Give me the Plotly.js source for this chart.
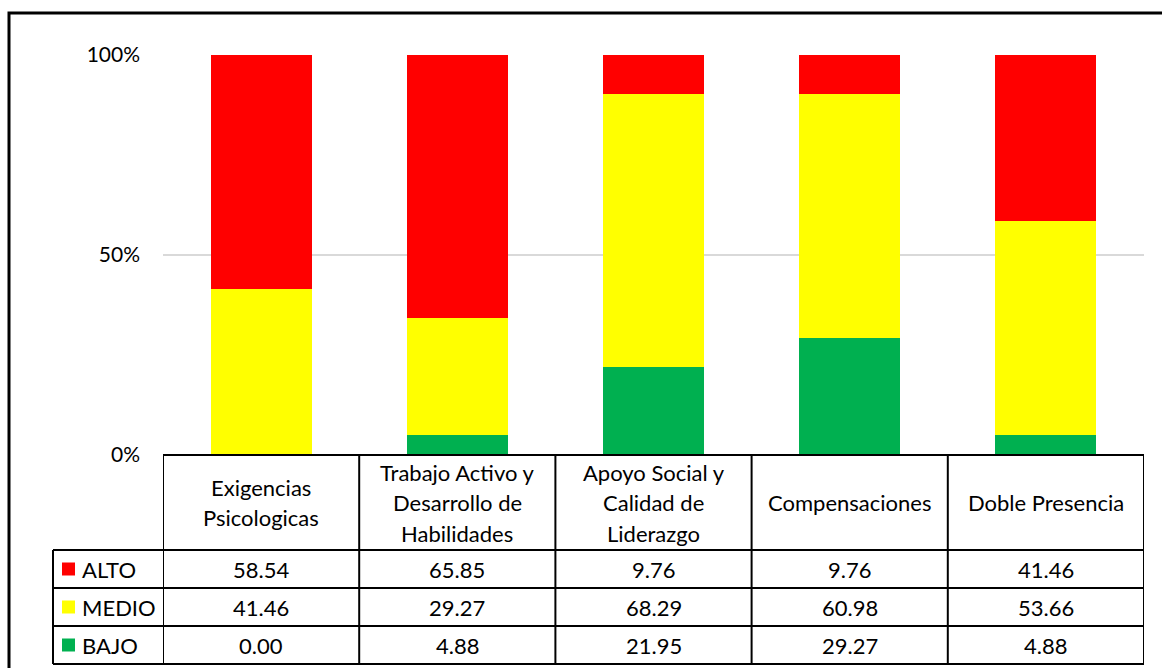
<!DOCTYPE html>
<html>
<head>
<meta charset="utf-8">
<script src="https://cdn.plot.ly/plotly-3.0.1.min.js"></script>
<style>html,body{margin:0;padding:0;background:#fff;}#chart{width:1162px;height:668px;}</style>
</head>
<body>
<div id="chart"></div>
<script>
// ---- data ----
const categories = ['Exigencias Psicologicas', 'Trabajo Activo y Desarrollo de Habilidades', 'Apoyo Social y Calidad de Liderazgo', 'Compensaciones', 'Doble Presencia'];
const categoryLabels = ['Exigencias<br>Psicologicas', 'Trabajo Activo y<br>Desarrollo de<br>Habilidades', 'Apoyo Social y<br>Calidad de<br>Liderazgo', 'Compensaciones', 'Doble Presencia'];
const alto  = [58.54, 65.85, 9.76, 9.76, 41.46];
const medio = [41.46, 29.27, 68.29, 60.98, 53.66];
const bajo  = [0.00, 4.88, 21.95, 29.27, 4.88];
const seriesNames = ['ALTO', 'MEDIO', 'BAJO'];
const yTickVals = [0, 50, 100];
const yTickText = ['0%', '50%', '100%'];

// ---- styles ----
const colors = {ALTO: '#ff0000', MEDIO: '#ffff00', BAJO: '#00b050'};
const FONT = 'Lato, "Liberation Sans", Arial, sans-serif';
const W = 1162, H = 668;
const L = 163, R = 18, T = 55, B = 213;
const plotW = W - L - R, plotH = H - T - B;
const px2x = p => (p - L) / plotW;          // pixel x -> paper x
const px2y = p => (H - B - p) / plotH;       // pixel y -> paper y

const seriesData = {ALTO: alto, MEDIO: medio, BAJO: bajo};
const idx = categories.map((_, i) => i);

const traces = ['BAJO', 'MEDIO', 'ALTO'].map(name => ({
  type: 'bar',
  name: name,
  x: idx,
  y: seriesData[name],
  marker: {color: colors[name], line: {width: 0}},
  hoverinfo: 'skip'
}));

// table geometry (pixel rows)
const headerTop = 455, headerBottom = 550;
const rowH = 38;
const rowTops = seriesNames.map((_, r) => headerBottom + r * rowH);
const tableBottom = headerBottom + seriesNames.length * rowH;
const legendColLeft = 53;

const shapes = [];
const lineStyle = {color: '#000', width: 2};
// outer chart border
shapes.push({type: 'rect', xref: 'paper', yref: 'paper', x0: px2x(9), x1: px2x(W + 6), y0: px2y(H + 6), y1: px2y(13), line: {color: '#000', width: 3}, fillcolor: 'rgba(0,0,0,0)', layer: 'above'});
// horizontal lines
shapes.push({type: 'line', xref: 'x', yref: 'paper', x0: -0.5, x1: categories.length - 0.5, y0: px2y(headerTop), y1: px2y(headerTop), line: lineStyle});
[headerBottom, ...rowTops.slice(1), tableBottom].forEach(p => {
  shapes.push({type: 'line', xref: 'paper', yref: 'paper', x0: px2x(legendColLeft), x1: 1, y0: px2y(p), y1: px2y(p), line: lineStyle});
});
// vertical lines
for (let i = 0; i <= categories.length; i++) {
  shapes.push({type: 'line', xref: 'x', yref: 'paper', x0: i - 0.5, x1: i - 0.5, y0: px2y(headerTop), y1: px2y(tableBottom), line: lineStyle});
}
shapes.push({type: 'line', xref: 'paper', yref: 'paper', x0: px2x(legendColLeft), x1: px2x(legendColLeft), y0: px2y(headerBottom), y1: px2y(tableBottom), line: lineStyle});
// legend keys
seriesNames.forEach((name, r) => {
  const c = rowTops[r] + rowH / 2;
  shapes.push({type: 'rect', xref: 'paper', yref: 'paper', x0: px2x(62), x1: px2x(75), y0: px2y(c + 6.5), y1: px2y(c - 6.5), fillcolor: colors[name], line: {width: 0}});
});

const annotations = [];
const txtFont = {family: FONT, size: 22, color: '#000'};
const lineGap = 30.5;
categoryLabels.forEach((lab, i) => {
  const lines = lab.split('<br>');
  const mid = (headerTop + headerBottom) / 2;
  lines.forEach((ln, k) => {
    const yc = mid + (k - (lines.length - 1) / 2) * lineGap;
    annotations.push({xref: 'x', yref: 'paper', x: i, y: px2y(yc), text: ln, showarrow: false, xanchor: 'center', yanchor: 'middle', align: 'center', font: txtFont});
  });
});
seriesNames.forEach((name, r) => {
  const c = rowTops[r] + rowH / 2;
  annotations.push({xref: 'paper', yref: 'paper', x: px2x(80), y: px2y(c), text: name, showarrow: false, xanchor: 'left', yanchor: 'middle', font: txtFont});
  seriesData[name].forEach((v, i) => {
    annotations.push({xref: 'x', yref: 'paper', x: i, y: px2y(c), text: v.toFixed(2), showarrow: false, xanchor: 'center', yanchor: 'middle', font: txtFont});
  });
});

const layout = {
  width: W, height: H,
  margin: {l: L, r: R, t: T, b: B, pad: 0},
  paper_bgcolor: '#fff', plot_bgcolor: '#fff',
  barmode: 'stack',
  bargap: 0.485,
  showlegend: false,
  font: {family: FONT, size: 20, color: '#000'},
  xaxis: {range: [-0.5, categories.length - 0.5], showticklabels: false, showgrid: false, zeroline: false, showline: false, ticks: '', fixedrange: true},
  yaxis: {range: [0, 100], tickvals: yTickVals, ticktext: yTickText, showgrid: true, gridcolor: '#d9d9d9', gridwidth: 2, zeroline: false, showline: false, ticks: '', ticklabelstandoff: 22, tickfont: {family: FONT, size: 21, color: '#000'}, fixedrange: true},
  shapes: shapes,
  annotations: annotations
};

Plotly.newPlot('chart', traces, layout, {displayModeBar: false, staticPlot: true});
</script>
</body>
</html>
